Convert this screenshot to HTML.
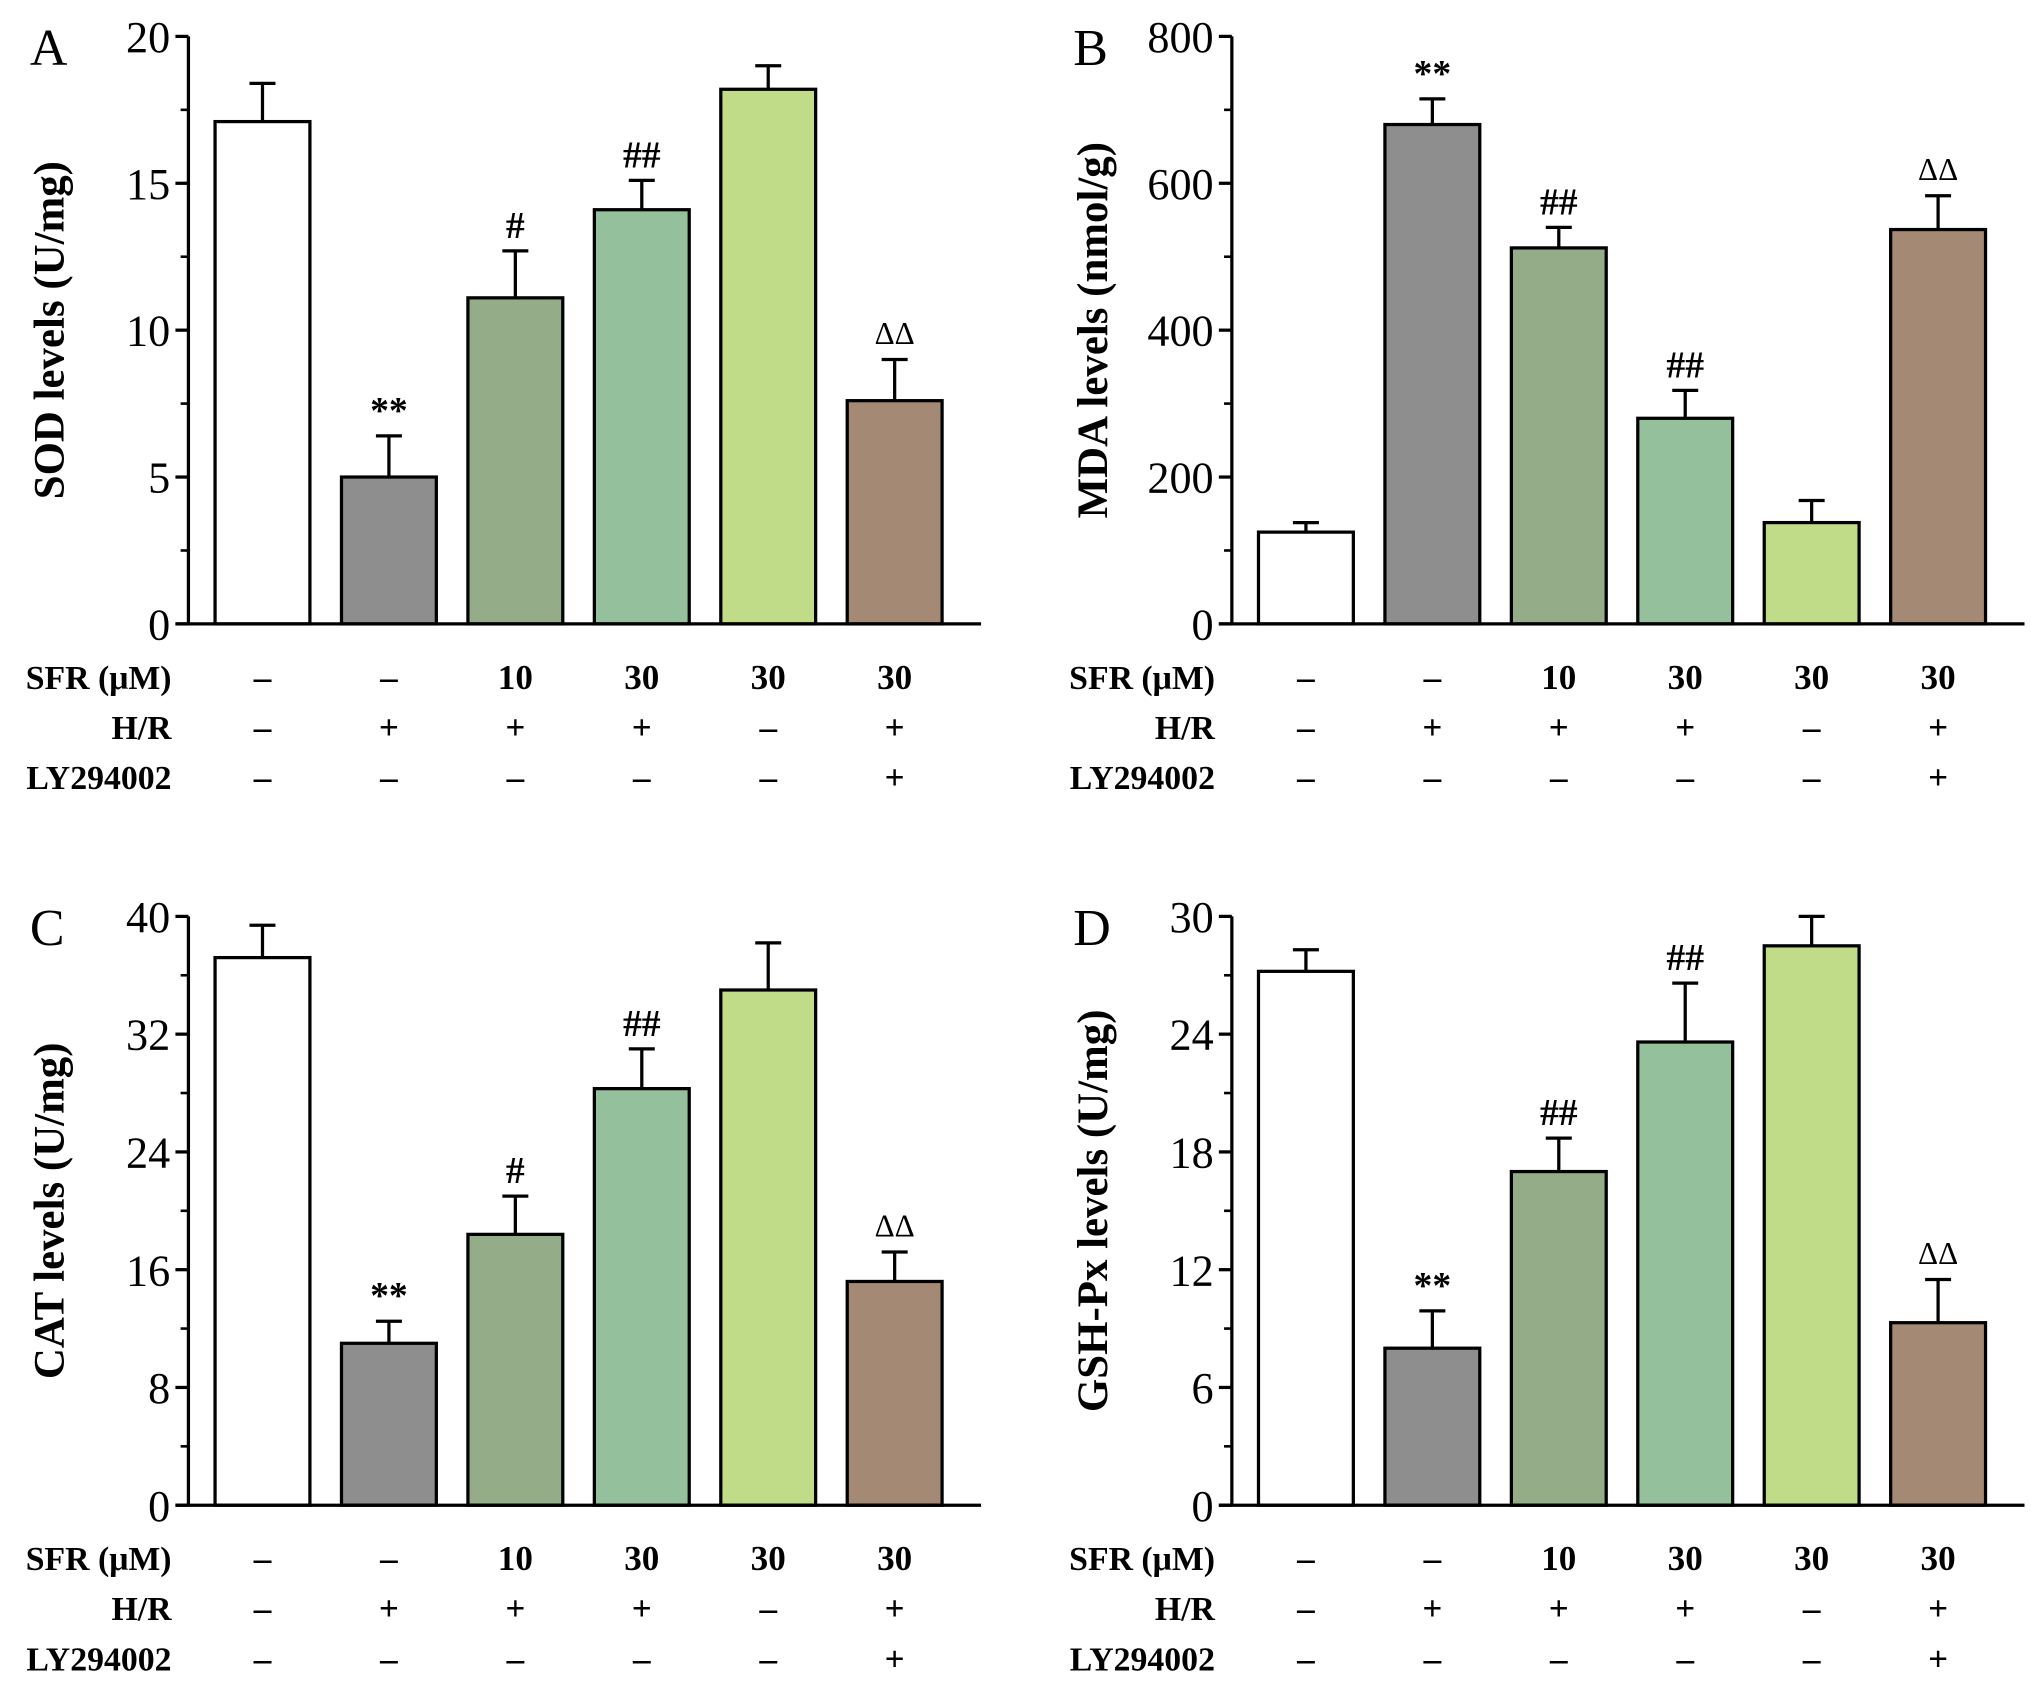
<!DOCTYPE html>
<html><head><meta charset="utf-8">
<style>
html,body{margin:0;padding:0;background:#fff;}
svg{display:block;}
text{font-family:"Liberation Serif",serif;fill:#000;}
</style></head>
<body>
<svg id="fig" width="2031" height="1682" viewBox="0 0 1563 1294" preserveAspectRatio="none" xmlns="http://www.w3.org/2000/svg"></svg>
<script>
const categories = ["Control","H/R","SFR10+H/R","SFR30+H/R","SFR30","SFR30+H/R+LY"];
const sfrRow = ["–","–","10","30","30","30"];
const hrRow = ["–","+","+","+","–","+"];
const lyRow = ["–","–","–","–","–","+"];
const colors = ["#ffffff","#8e8e8e","#94ac88","#94c09c","#c0dc88","#a48a74"];

const sodValues = [17.1, 5.0, 11.1, 14.1, 18.2, 7.6];
const sodErrors = [1.3, 1.4, 1.6, 1.0, 0.8, 1.4];
const sodTicks = [0,5,10,15,20];
const sodMarks = ["","**","#","##","","ΔΔ"];

const mdaValues = [125, 680, 512, 280, 138, 537];
const mdaErrors = [13, 35, 28, 38, 30, 46];
const mdaTicks = [0,200,400,600,800];
const mdaMarks = ["","**","##","##","","ΔΔ"];

const catValues = [37.2, 11.0, 18.4, 28.3, 35.0, 15.2];
const catErrors = [2.2, 1.5, 2.6, 2.7, 3.2, 2.0];
const catTicks = [0,8,16,24,32,40];
const catMarks = ["","**","#","##","","ΔΔ"];

const gshValues = [27.2, 8.0, 17.0, 23.6, 28.5, 9.3];
const gshErrors = [1.1, 1.9, 1.7, 3.0, 1.5, 2.2];
const gshTicks = [0,6,12,18,24,30];
const gshMarks = ["","**","##","##","","ΔΔ"];

const NS="http://www.w3.org/2000/svg";
const svg=document.getElementById('fig');
function mk(tag,attrs,parent,txt){const e=document.createElementNS(NS,tag);for(const k in attrs)e.setAttribute(k,attrs[k]);if(txt!==undefined)e.textContent=txt;(parent||svg).appendChild(e);return e;}

function panel(cfg){
  const g=mk('g',{});
  
  
  const x0=cfg.ax, y0=cfg.zero, yTop=cfg.top, x1=cfg.ax+610;
  const maxV=cfg.ticks[cfg.ticks.length-1];
  const ys=v=>y0-(v/maxV)*(y0-yTop);
  const xs=i=>cfg.ax+57+i*97.3;
  const bw=73;
  cfg.values.forEach((v,i)=>{
    const e=cfg.values[i]+cfg.errors[i];
    const l=mk('line',{x1:xs(i),x2:xs(i),y1:ys(v),y2:ys(e),stroke:'#000','stroke-width':2.5},g);
    
    
    const c=mk('line',{x1:xs(i)-10,x2:xs(i)+10,y1:ys(e),y2:ys(e),stroke:'#000','stroke-width':2.5},g);
    
    
    const r=mk('rect',{x:xs(i)-bw/2,y:ys(v),width:bw,height:y0-ys(v),fill:colors[i],stroke:'#000','stroke-width':2.5},g);
    
    
    if(cfg.marks[i]){
      const isD=cfg.marks[i]==='ΔΔ';
      const t=mk('text',{x:xs(i),y:ys(e)-(isD?12:10),'text-anchor':'middle','font-size':isD?24:29,'font-weight':isD?'normal':'bold'},g,cfg.marks[i]);
      
      
    }
  });
  const ya=mk('line',{x1:x0,x2:x0,y1:yTop,y2:y0+1,stroke:'#000','stroke-width':2.5},g);
  
  
  const xa=mk('line',{x1:x0-10,x2:x1,y1:y0,y2:y0,stroke:'#000','stroke-width':2.5},g);
  
  
  cfg.ticks.forEach((t,k)=>{
    mk('line',{x1:x0-10,x2:x0,y1:ys(t),y2:ys(t),stroke:'#000','stroke-width':2.5},g);
    const lab=mk('text',{x:x0-14,y:ys(t)+12,'text-anchor':'end','font-size':34},g,String(t));
    
    
    if(k<cfg.ticks.length-1){const m=(t+cfg.ticks[k+1])/2;mk('line',{x1:x0-6,x2:x0,y1:ys(m),y2:ys(m),stroke:'#000','stroke-width':2},g);}
  });
  const yt=mk('text',{x:0,y:0,'text-anchor':'middle','font-size':33,'font-weight':'bold',transform:`translate(${x0-96},${(y0+yTop)/2}) rotate(-90)`},g,cfg.title);
  
  
  const pl=mk('text',{x:x0-122,y:yTop+22,'font-size':40},g,cfg.letter);
  
  
  const rows=[["SFR (μM)",sfrRow],["H/R",hrRow],["LY294002",lyRow]];
  rows.forEach((r,ri)=>{
    const yy=y0+50+ri*38.5;
    const lt=mk('text',{x:x0-13,y:yy,'text-anchor':'end','font-size':26,'font-weight':'bold'},g,r[0]);
    
    
    r[1].forEach((s,i)=>{
      const ct=mk('text',{x:xs(i),y:yy,'text-anchor':'middle','font-size':27,'font-weight':'bold'},g,s);
      
      
    });
  });
}
panel({letter:'A',ax:145,zero:480,top:28,ticks:sodTicks,values:sodValues,errors:sodErrors,marks:sodMarks,title:'SOD levels (U/mg)'});
panel({letter:'B',ax:948,zero:480,top:28,ticks:mdaTicks,values:mdaValues,errors:mdaErrors,marks:mdaMarks,title:'MDA levels (nmol/g)'});
panel({letter:'C',ax:145,zero:1158,top:705,ticks:catTicks,values:catValues,errors:catErrors,marks:catMarks,title:'CAT levels (U/mg)'});
panel({letter:'D',ax:948,zero:1158,top:705,ticks:gshTicks,values:gshValues,errors:gshErrors,marks:gshMarks,title:'GSH-Px levels (U/mg)'});
</script>
</body></html>
